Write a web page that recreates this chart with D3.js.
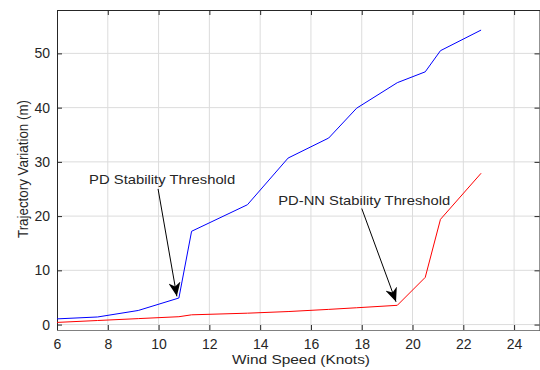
<!DOCTYPE html>
<html>
<head>
<meta charset="utf-8">
<script src="https://cdn.jsdelivr.net/npm/d3@7"></script>
<style>
  body { margin: 0; background: #fff; }
  text { font-family: "Liberation Sans", Arial, sans-serif; fill: #262626; }
</style>
</head>
<body>
<script>
// wind speed (knots)
const windSpeed = [6, 7.6, 9.2, 10.8, 11.3, 13.5, 15.1, 16.7, 17.8, 19.4, 20.5, 21.1, 22.7];
// trajectory variation (m)
const pdValues = [1.05, 1.4, 2.6, 4.9, 17.2, 22.1, 30.7, 34.4, 39.9, 44.6, 46.6, 50.5, 54.3];
const pdnnValues = [0.4, 0.75, 1.1, 1.45, 1.8, 2.1, 2.4, 2.8, 3.1, 3.55, 8.7, 19.4, 27.9];
const xTicks = [6, 8, 10, 12, 14, 16, 18, 20, 22, 24];
const yTicks = [0, 10, 20, 30, 40, 50];

const width = 540;
const height = 370;
const marginLeft = 57;
const marginTop = 10;
const marginRight = 0.5;
const marginBottom = 40;

const svg = d3.select("body").append("svg")
    .attr("width", width)
    .attr("height", height);

const xScale = d3.scaleLinear().domain([6, 25]).range([marginLeft, width - marginRight]);
const yScale = d3.scaleLinear().domain([-1, 58]).range([height - marginBottom, marginTop]);

// grid
const grid = svg.append("g").attr("stroke", "#dcdcdc").attr("stroke-width", 1);
grid.selectAll(".gx").data(xTicks.slice(1)).join("line")
    .attr("x1", d => xScale(d)).attr("x2", d => xScale(d))
    .attr("y1", marginTop).attr("y2", height - marginBottom);
grid.selectAll(".gy").data(yTicks).join("line")
    .attr("x1", marginLeft).attr("x2", width - marginRight)
    .attr("y1", d => yScale(d)).attr("y2", d => yScale(d));

// axes (ticks inward like matlab)
const tickLen = 5;
const axBottom = svg.append("g")
    .attr("transform", "translate(0," + (height - marginBottom) + ")")
    .call(d3.axisBottom(xScale).tickValues(xTicks).tickSizeInner(-tickLen).tickSizeOuter(0).tickPadding(9));
const axTop = svg.append("g")
    .attr("transform", "translate(0," + marginTop + ")")
    .call(d3.axisTop(xScale).tickValues(xTicks).tickSizeInner(-tickLen).tickSizeOuter(0).tickFormat(""));
const axLeft = svg.append("g")
    .attr("transform", "translate(" + marginLeft + ",0)")
    .call(d3.axisLeft(yScale).tickValues(yTicks).tickSizeInner(-tickLen).tickSizeOuter(0).tickPadding(7));
const axRight = svg.append("g")
    .attr("transform", "translate(" + (width - marginRight) + ",0)")
    .call(d3.axisRight(yScale).tickValues(yTicks).tickSizeInner(-tickLen).tickSizeOuter(0).tickFormat(""));

[axBottom, axTop, axLeft, axRight].forEach(ax => {
    ax.selectAll("path").attr("stroke", "#262626");
    ax.selectAll("line").attr("stroke", "#262626");
    ax.selectAll("text")
        .style("font-family", "'Liberation Sans', Arial, sans-serif")
        .style("font-size", "14px")
        .attr("fill", "#262626");
});
axBottom.select("path").attr("stroke", "#808080");

// lines
const line = d3.line()
    .x(d => xScale(d[0]))
    .y(d => yScale(d[1]));

svg.append("path")
    .datum(d3.zip(windSpeed, pdValues))
    .attr("fill", "none")
    .attr("stroke", "#0000ff")
    .attr("stroke-width", 1)
    .attr("d", line);

svg.append("path")
    .datum(d3.zip(windSpeed, pdnnValues))
    .attr("fill", "none")
    .attr("stroke", "#ff0000")
    .attr("stroke-width", 1)
    .attr("d", line);

// annotations
svg.append("defs").append("marker")
    .attr("id", "head")
    .attr("viewBox", "0 0 14 12")
    .attr("refX", 14).attr("refY", 6)
    .attr("markerWidth", 14).attr("markerHeight", 12)
    .attr("markerUnits", "userSpaceOnUse")
    .attr("orient", "auto")
    .append("path")
    .attr("d", "M0,0 L14,6 L0,12 L4,6 Z")
    .attr("fill", "#000");

const notes = [
    { label: "PD Stability Threshold", tx: 10.14, ty: 26.5, len: 146, ax0: 9.98, ay0: 25.0, ax1: 10.72, ay1: 5.2 },
    { label: "PD-NN Stability Threshold", tx: 18.1, ty: 22.6, len: 172, ax0: 18.0, ay0: 21.4, ax1: 19.35, ay1: 4.2 }
];

notes.forEach(n => {
    svg.append("line")
        .attr("x1", xScale(n.ax0)).attr("y1", yScale(n.ay0))
        .attr("x2", xScale(n.ax1)).attr("y2", yScale(n.ay1))
        .attr("stroke", "#000")
        .attr("stroke-width", 1)
        .attr("marker-end", "url(#head)");
    svg.append("text")
        .attr("x", xScale(n.tx)).attr("y", yScale(n.ty))
        .attr("text-anchor", "middle")
        .attr("dominant-baseline", "middle")
        .attr("textLength", n.len)
        .attr("lengthAdjust", "spacingAndGlyphs")
        .style("font-size", "13px")
        .attr("fill", "#000")
        .text(n.label);
});

// axis labels
svg.append("text")
    .attr("x", 301)
    .attr("y", 364)
    .attr("text-anchor", "middle")
    .attr("textLength", 138)
    .attr("lengthAdjust", "spacingAndGlyphs")
    .style("font-size", "13px")
    .text("Wind Speed (Knots)");

svg.append("text")
    .attr("transform", "translate(28,169) rotate(-90)")
    .attr("text-anchor", "middle")
    .attr("textLength", 138)
    .attr("lengthAdjust", "spacingAndGlyphs")
    .style("font-size", "14px")
    .text("Trajectory Variation (m)");
</script>
</body>
</html>
